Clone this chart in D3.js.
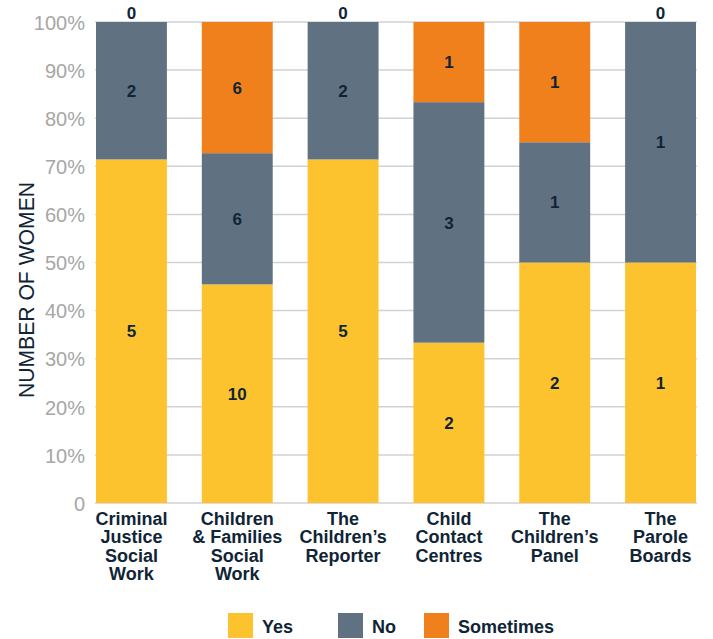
<!DOCTYPE html>
<html>
<head>
<meta charset="utf-8">
<script src="https://cdn.jsdelivr.net/npm/d3@7"></script>
<style>
  html, body { margin: 0; padding: 0; background: #ffffff; }
  svg { display: block; font-family: "Liberation Sans", Arial, Helvetica, sans-serif; }
</style>
</head>
<body>
<svg id="chart" width="713" height="639"></svg>
<script>
// Categories (one line per array entry)
const categories = [
  ["Criminal", "Justice", "Social", "Work"],
  ["Children", "& Families", "Social", "Work"],
  ["The", "Children\u2019s", "Reporter"],
  ["Child", "Contact", "Centres"],
  ["The", "Children\u2019s", "Panel"],
  ["The", "Parole", "Boards"]
];
const seriesNames = ["Yes", "No", "Sometimes"];
const yesValues = [5, 10, 5, 2, 2, 1];
const noValues = [2, 6, 2, 3, 1, 1];
const sometimesValues = [0, 6, 0, 1, 1, 0];
const yTickValues = [0, 0.1, 0.2, 0.3, 0.4, 0.5, 0.6, 0.7, 0.8, 0.9, 1];
const yTickLabels = ["0", "10%", "20%", "30%", "40%", "50%", "60%", "70%", "80%", "90%", "100%"];
const yAxisTitle = "NUMBER OF WOMEN";

const colors = { Yes: "#fcc32e", No: "#607282", Sometimes: "#ef801c" };
const textDark = "#0f2536";

const rows = categories.map((c, i) => ({
  key: i,
  Yes: yesValues[i],
  No: noValues[i],
  Sometimes: sometimesValues[i]
}));

const stack = d3.stack().keys(seriesNames).offset(d3.stackOffsetExpand);
const layers = stack(rows);

const svg = d3.select("#chart");

const x = d3.scaleBand()
  .domain(rows.map(r => r.key))
  .range([96, 696])
  .paddingInner(0.33)
  .paddingOuter(0);

const y = d3.scaleLinear().domain([0, 1]).range([503, 22]);

// Horizontal gridlines
svg.append("g")
  .selectAll("line")
  .data(yTickValues)
  .join("line")
  .attr("x1", 95)
  .attr("x2", 697)
  .attr("y1", d => y(d))
  .attr("y2", d => y(d))
  .attr("stroke", "#d2d2d4")
  .attr("stroke-width", 1.5);

// Y axis tick labels
const yAxis = d3.axisLeft(y)
  .tickValues(yTickValues)
  .tickFormat((d, i) => yTickLabels[i])
  .tickSize(0)
  .tickPadding(0);

const yAxisG = svg.append("g")
  .attr("transform", "translate(85,0)")
  .call(yAxis);
yAxisG.select(".domain").remove();
yAxisG.selectAll("text")
  .attr("fill", "#a6a6a6")
  .attr("font-size", 20)
  .attr("font-family", "'Liberation Sans', Arial, sans-serif")
  .attr("dy", "0.36em");

// Y axis title
svg.append("text")
  .attr("transform", "translate(34,290) rotate(-90)")
  .attr("text-anchor", "middle")
  .attr("fill", textDark)
  .attr("font-size", 22)
  .attr("textLength", 216)
  .attr("lengthAdjust", "spacingAndGlyphs")
  .text(yAxisTitle);

// Stacked bars
const layerG = svg.append("g")
  .selectAll("g")
  .data(layers)
  .join("g")
  .attr("fill", d => colors[d.key]);

layerG.selectAll("rect")
  .data(d => d)
  .join("rect")
  .attr("x", d => x(d.data.key))
  .attr("width", x.bandwidth())
  .attr("y", d => y(d[1]))
  .attr("height", d => y(d[0]) - y(d[1]));

// Value labels; an empty top segment is labelled just above the bar
const labelData = [];
layers.forEach(layer => {
  layer.forEach(d => {
    const v = d.data[layer.key];
    const zero = v === 0;
    if (zero && layer.key !== "Sometimes") return;
    labelData.push({
      key: d.data.key,
      value: v,
      yPos: zero ? y(d[1]) - 9 : y((d[0] + d[1]) / 2)
    });
  });
});

svg.append("g")
  .selectAll("text")
  .data(labelData)
  .join("text")
  .attr("x", d => x(d.key) + x.bandwidth() / 2)
  .attr("y", d => d.yPos)
  .attr("dy", "0.36em")
  .attr("text-anchor", "middle")
  .attr("font-weight", "bold")
  .attr("font-size", 17)
  .attr("fill", textDark)
  .text(d => d.value);

// Category labels
const catG = svg.append("g")
  .selectAll("text")
  .data(rows)
  .join("text")
  .attr("x", d => x(d.key) + x.bandwidth() / 2)
  .attr("y", 525)
  .attr("text-anchor", "middle")
  .attr("font-weight", "bold")
  .attr("font-size", 18)
  .attr("fill", textDark);

catG.selectAll("tspan")
  .data(d => categories[d.key])
  .join("tspan")
  .attr("x", function () { return d3.select(this.parentNode).attr("x"); })
  .attr("dy", (d, i) => i === 0 ? 0 : 18.4)
  .text(d => d);

// Legend
const legendX = [228, 338, 424];
const legend = svg.append("g")
  .selectAll("g")
  .data(seriesNames)
  .join("g")
  .attr("transform", (d, i) => `translate(${legendX[i]},613)`);

legend.append("rect")
  .attr("width", 25)
  .attr("height", 25)
  .attr("fill", d => colors[d]);

legend.append("text")
  .attr("x", 34)
  .attr("y", 20)
  .attr("font-weight", "bold")
  .attr("font-size", 18)
  .attr("fill", textDark)
  .text(d => d);
</script>
</body>
</html>
